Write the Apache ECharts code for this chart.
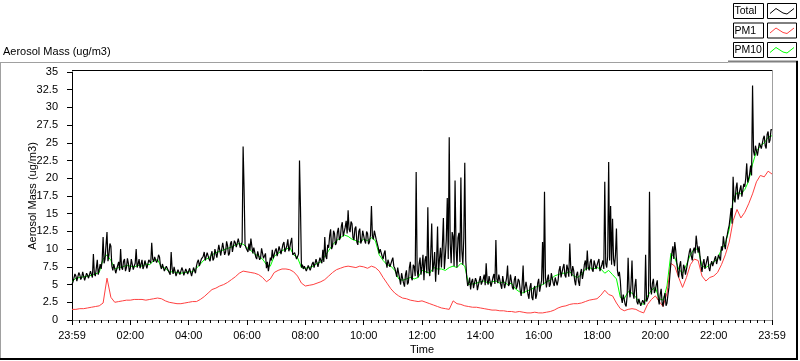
<!DOCTYPE html>
<html>
<head>
<meta charset="utf-8">
<script src="https://cdn.jsdelivr.net/npm/echarts@6/dist/echarts.min.js"></script>
<style>
html,body{margin:0;padding:0;background:#fff;}
#chart{width:800px;height:361px;}
</style>
</head>
<body>
<div id="chart"></div>
<script>
// ---- data ----
const chartTitle = 'Aerosol Mass (ug/m3)';
const xAxisName = 'Time';
const yAxisName = 'Aerosol Mass (ug/m3)';
const seriesNames = ['Total', 'PM1', 'PM10'];
const xTickLabels = ['23:59','02:00','04:00','06:00','08:00','10:00','12:00','14:00','16:00','18:00','20:00','22:00','23:59'];
const yTickLabels = ['0','2.5','5','7.5','10','12.5','15','17.5','20','22.5','25','27.5','30','32.5','35'];

// sample spacing in minutes after 23:59 of the previous day
const totalStepMin = 2;
const pm1StepMin = 8;
const pm10StepMin = 8;

const totalValues = [
5.0,5.4,5.9,6.5,6.2,5.5,5.6,6.7,6.4,5.7,6.0,6.8,6.6,5.6,5.8,6.6,6.3,5.9,6.1,6.9,
6.4,6.0,9.3,6.5,6.2,7.3,8.5,6.4,6.6,7.9,7.2,8.4,11.7,8.0,8.6,10.6,12.4,8.3,9.2,10.8,
10.4,7.6,7.0,7.9,7.8,6.6,6.8,7.7,8.2,7.0,10.0,7.4,7.1,8.3,8.6,6.9,7.4,8.7,8.0,6.8,
7.3,8.6,8.4,7.1,7.6,8.0,10.0,7.4,7.9,8.6,7.3,7.9,8.5,7.2,7.6,8.4,8.2,7.3,7.5,8.5,
8.3,8.0,10.9,8.6,8.2,8.9,9.1,8.1,8.4,9.2,8.9,7.6,7.2,7.9,8.0,6.9,7.0,7.6,7.8,7.0,
7.1,6.4,9.6,7.2,6.5,7.5,7.4,6.2,6.3,7.1,7.3,6.4,6.6,7.4,7.0,6.3,6.2,7.2,7.4,6.5,
6.4,7.3,7.1,6.2,6.3,7.4,7.2,6.6,7.6,8.2,8.5,7.6,7.5,8.6,8.4,9.0,9.6,8.4,8.2,9.5,
9.4,8.6,8.3,9.2,9.7,8.4,8.7,10.0,10.2,8.8,9.0,10.6,10.8,9.1,9.3,10.9,11.0,9.2,9.6,11.1,
10.5,9.1,9.4,10.8,11.1,9.6,9.8,11.2,10.9,10.3,10.4,11.5,11.4,10.2,10.3,11.0,24.5,18.4,10.6,10.2,
10.0,9.6,10.8,9.8,11.5,10.4,9.4,10.2,10.1,8.9,8.6,9.7,9.9,8.5,8.8,10.1,10.0,8.7,8.5,9.4,
7.3,8.2,6.9,7.8,8.8,8.4,9.9,8.7,8.6,9.8,10.1,9.0,9.2,10.4,10.6,9.3,9.5,10.7,11.0,9.6,
9.8,10.5,11.4,9.7,10.2,11.0,11.6,9.2,9.0,9.5,9.4,8.6,8.7,9.3,22.5,15.9,7.4,7.8,7.2,7.6,
7.8,6.9,7.0,7.7,7.6,7.0,7.1,7.9,8.2,7.4,7.5,8.6,8.7,7.5,7.6,8.8,8.4,8.0,9.9,8.2,
11.7,9.0,8.6,10.6,10.2,11.9,12.8,10.0,10.4,12.6,12.2,10.6,10.9,12.4,13.0,11.3,11.6,13.2,13.8,11.8,
12.0,13.1,14.0,12.2,15.5,12.8,12.4,13.9,13.6,11.6,11.3,12.9,13.2,11.0,10.6,12.5,12.9,10.8,11.2,12.6,
12.7,11.2,10.8,12.5,12.2,10.7,11.0,12.0,16.1,11.8,11.4,12.6,12.4,11.3,11.2,10.2,9.4,10.0,10.1,9.0,
8.6,9.4,9.8,8.2,7.4,8.5,8.7,7.5,7.6,8.4,8.8,7.6,7.3,6.8,6.1,7.4,7.2,5.8,5.0,6.6,
6.8,5.2,4.7,6.4,7.0,5.0,5.3,7.4,8.2,6.0,5.6,7.8,7.5,6.2,20.9,7.0,6.0,7.9,8.8,6.4,
7.6,9.2,5.6,8.4,9.0,6.6,15.9,7.2,6.2,9.4,13.6,6.8,7.8,9.6,5.4,8.2,13.2,6.4,8.6,10.2,
7.4,10.6,14.4,7.2,9.0,11.4,17.2,8.6,25.8,10.8,8.0,12.4,11.8,7.6,19.7,10.4,7.4,11.6,12.3,8.2,
20.1,9.8,7.8,11.6,22.2,8.4,6.0,4.8,5.2,6.0,4.3,5.4,5.8,4.5,4.6,5.9,5.5,4.2,4.4,5.6,
6.2,5.0,4.8,5.8,6.4,4.9,8.0,5.6,5.0,6.2,6.3,4.7,4.9,6.0,6.5,5.1,11.3,5.8,5.2,6.4,
6.6,5.0,4.4,6.2,6.0,4.5,4.6,5.9,7.7,4.8,5.1,6.4,6.5,4.6,4.3,5.7,6.2,4.4,4.8,5.8,
5.5,4.2,3.4,5.0,7.7,3.8,4.0,5.4,5.6,3.6,3.0,4.6,5.2,3.2,2.8,4.4,4.8,3.0,3.6,5.2,
5.8,4.0,4.2,5.6,11.0,5.0,18.1,6.0,4.6,5.8,6.4,4.7,5.0,6.6,6.8,5.2,4.8,6.0,6.2,4.9,
5.6,7.0,7.6,6.0,5.9,7.4,7.9,6.3,6.0,7.8,7.2,6.1,10.8,7.4,6.2,7.6,7.0,5.6,4.9,6.4,
6.8,5.4,4.8,6.6,7.2,5.8,6.6,7.8,8.4,7.0,9.8,7.4,7.0,8.2,8.6,7.1,6.8,8.4,8.2,7.2,
7.0,8.2,8.6,6.9,6.7,7.8,8.4,7.2,19.5,8.0,7.4,9.0,22.3,8.4,16.1,7.8,14.3,8.6,7.6,9.2,
12.9,7.0,6.2,6.8,5.5,3.2,2.4,3.6,3.8,2.2,1.9,3.4,8.8,4.4,3.2,5.0,8.4,3.8,3.0,4.8,
5.8,2.6,2.2,3.0,3.2,2.0,1.8,2.8,3.0,2.2,9.2,2.6,2.4,3.4,18.1,4.8,3.6,5.2,5.8,3.8,
4.2,5.0,5.6,3.0,2.2,3.6,4.4,2.4,1.9,3.2,3.8,2.0,2.4,3.6,4.6,6.4,8.0,9.4,10.4,8.6,
11.0,9.8,8.2,7.0,6.0,7.6,8.3,6.4,5.8,7.8,7.4,6.4,6.2,7.9,8.8,9.6,10.1,9.0,8.4,9.8,
10.2,9.4,11.9,10.6,9.5,10.4,8.9,7.6,6.8,8.0,8.6,7.2,7.0,8.4,9.0,7.4,6.9,7.8,8.3,7.6,
7.7,8.6,9.0,7.9,8.0,9.2,9.3,8.4,10.4,9.8,11.8,10.6,10.0,11.4,12.0,12.8,13.4,14.6,15.8,13.6,
20.2,17.0,16.6,18.6,19.4,17.0,17.2,18.4,19.0,17.4,17.6,19.2,18.8,20.0,22.1,19.4,19.6,20.6,21.8,20.4,
33.1,23.8,23.2,24.6,24.8,23.2,23.4,25.0,25.2,24.2,24.0,25.6,26.0,24.6,24.2,26.2,26.6,25.0,25.4,26.9,26.8
];

const pm1Values = [
1.5,1.5,1.6,1.6,1.7,1.8,1.9,2.0,2.4,5.9,
3.2,2.5,2.6,2.7,2.8,2.8,2.9,2.9,2.9,2.8,
2.9,3.0,3.1,3.0,2.7,2.5,2.4,2.3,2.3,2.4,
2.5,2.6,2.6,2.9,3.3,3.8,4.3,4.5,4.8,5.0,
5.3,5.7,6.1,6.6,6.9,6.8,6.7,6.6,6.4,6.0,
5.4,5.8,6.7,7.0,7.2,7.2,7.1,6.8,6.2,5.2,
4.8,4.9,5.0,5.2,5.4,5.7,6.2,6.7,7.1,7.3,
7.5,7.6,7.5,7.4,7.6,7.5,7.3,7.6,7.4,6.9,
6.0,5.2,4.4,3.8,3.4,3.1,3.0,2.8,2.7,2.6,
2.7,2.5,2.3,2.1,1.9,1.7,1.6,1.5,2.7,2.3,
2.2,2.0,1.9,1.8,1.8,1.7,1.6,1.5,1.4,1.4,
1.3,1.3,1.2,1.2,1.1,1.2,1.1,1.0,1.0,1.1,
1.0,1.0,1.1,1.2,1.4,1.7,1.9,2.0,2.2,2.3,
2.3,2.4,2.6,2.8,2.9,3.0,3.5,4.2,3.6,3.4,
2.4,1.6,1.3,1.5,1.6,1.5,1.2,1.0,2.2,2.9,
3.4,2.6,1.9,3.8,8.0,7.6,6.0,4.6,6.0,7.8,
8.6,8.4,6.2,5.5,6.0,6.2,6.7,7.8,9.2,11.0,
14.0,15.6,14.4,15.2,16.4,17.8,19.5,20.4,20.2,21.0,20.6
];

const pm10Values = [
5.4,5.9,6.0,6.1,6.2,6.3,6.5,6.7,8.6,9.2,
8.4,7.2,7.4,7.5,7.7,7.6,7.5,7.7,7.6,7.9,
7.8,8.4,8.5,7.5,7.3,6.8,6.8,6.7,6.6,6.7,
6.8,6.8,7.3,7.9,8.5,8.7,9.2,9.5,9.7,9.9,
10.1,10.3,10.6,10.8,10.7,10.2,9.8,9.3,9.0,8.6,
7.8,7.6,9.0,9.4,9.8,10.0,10.2,9.2,8.8,7.4,
7.3,7.4,7.6,8.0,8.2,9.0,9.8,10.6,11.2,11.6,
12.0,11.8,11.4,11.2,11.0,11.4,11.2,11.6,11.2,9.2,
8.4,7.8,7.6,7.0,5.8,5.6,5.8,6.0,5.8,6.0,
7.0,6.8,6.6,7.4,7.2,7.2,7.0,7.4,7.6,7.4,
8.0,7.6,5.0,5.1,5.2,5.4,5.5,5.2,5.4,5.5,
5.2,5.4,5.0,5.2,4.4,4.0,3.8,4.1,4.3,4.6,
4.8,5.0,5.4,5.6,6.2,6.4,6.6,6.6,6.8,6.2,
6.0,6.4,7.2,7.4,7.2,7.4,7.2,6.6,7.0,6.4,
5.8,3.2,3.0,4.0,3.8,3.2,2.4,2.2,3.4,4.2,
4.6,3.0,2.8,4.8,9.4,8.8,7.2,6.6,7.8,9.2,
10.0,10.0,7.6,7.4,7.8,8.2,8.6,10.0,10.8,12.8,
17.0,18.0,17.8,18.4,19.6,22.0,23.8,24.6,25.0,25.8,26.0
];

// ---- build series data ----
function toXY(values, step) {
  return values.map(function (v, i) { return [i * step, v]; });
}

const FONT = 'Liberation Sans, Arial, sans-serif';
const chart = echarts.init(document.getElementById('chart'), null, {renderer: 'canvas'});

function legendRow(y, name, color) {
  return [
    {type: 'rect', shape: {x: 733.5, y: y + 0.5, width: 30, height: 15},
     style: {fill: '#fff', stroke: '#000', lineWidth: 1}, z: 10},
    {type: 'text', x: 734.5, y: y + 8.5,
     style: {text: name, font: '10.5px ' + FONT, fill: '#000', verticalAlign: 'middle'}, z: 11},
    {type: 'rect', shape: {x: 767.5, y: y + 0.5, width: 29, height: 15},
     style: {fill: '#fff', stroke: '#000', lineWidth: 1}, z: 10},
    {type: 'polyline', shape: {points: [[770, y + 10.5], [776, y + 5.5], [783, y + 10], [787, y + 11], [794, y + 5.5]]},
     style: {stroke: color, lineWidth: 1, fill: null}, z: 11}
  ];
}

const graphics = [].concat(
  [
    {type: 'line', shape: {x1: 0, y1: 62.5, x2: 728, y2: 62.5}, style: {stroke: '#a0a0a0', lineWidth: 1}},
    {type: 'line', shape: {x1: 728, y1: 61.5, x2: 798, y2: 61.5}, style: {stroke: '#808080', lineWidth: 2}},
    {type: 'line', shape: {x1: 0.5, y1: 62, x2: 0.5, y2: 359}, style: {stroke: '#a0a0a0', lineWidth: 1}},
    {type: 'line', shape: {x1: 0, y1: 359, x2: 798, y2: 359}, style: {stroke: '#000', lineWidth: 2}},
    {type: 'line', shape: {x1: 797, y1: 61, x2: 797, y2: 360}, style: {stroke: '#000', lineWidth: 2}},
    {type: 'line', shape: {x1: 72, y1: 70.5, x2: 772.5, y2: 70.5}, style: {stroke: '#000', lineWidth: 1}},
    {type: 'line', shape: {x1: 772.5, y1: 70.5, x2: 772.5, y2: 322.5}, style: {stroke: '#a0a0a0', lineWidth: 1}},
    {type: 'text', x: 3, y: 52,
     style: {text: chartTitle, font: '11px ' + FONT, fill: '#000', verticalAlign: 'middle'}}
  ],
  legendRow(3, seriesNames[0], '#000000'),
  legendRow(22.5, seriesNames[1], '#ff4040'),
  legendRow(42, seriesNames[2], '#00ff00')
);

const option = {
  animation: false,
  backgroundColor: '#ffffff',
  grid: {left: 72, right: 28, top: 72, height: 248, containLabel: false},
  xAxis: {
    type: 'value', min: 0, max: 1440, interval: 120,
    offset: 2,
    name: xAxisName, nameLocation: 'middle', nameGap: 22, nameMoveOverlap: false,
    nameTextStyle: {color: '#000', fontFamily: FONT, fontSize: 11},
    axisLine: {show: true, lineStyle: {color: '#909090', width: 1}},
    axisTick: {show: true, length: 5, lineStyle: {color: '#000'}},
    minorTick: {show: true, splitNumber: 8, length: 3, lineStyle: {color: '#000'}},
    splitLine: {show: false},
    axisLabel: {
      color: '#000', fontFamily: FONT, fontSize: 11, margin: 8,
      showMinLabel: true, showMaxLabel: true,
      formatter: function (v) { return xTickLabels[Math.round(v / 120)] || ''; }
    }
  },
  yAxis: {
    type: 'value', min: 0, max: 35, interval: 2.5,
    name: yAxisName, nameLocation: 'middle', nameRotate: 90, nameGap: 34, nameMoveOverlap: false,
    nameTextStyle: {color: '#000', fontFamily: FONT, fontSize: 11},
    axisLine: {show: true, lineStyle: {color: '#000', width: 1}},
    axisTick: {show: true, length: 5, lineStyle: {color: '#000'}},
    splitLine: {show: false},
    axisLabel: {
      color: '#000', fontFamily: FONT, fontSize: 11, margin: 14,
      showMinLabel: true, showMaxLabel: true,
      formatter: function (v) { return yTickLabels[Math.round(v / 2.5)] || ''; }
    }
  },
  graphic: graphics,
  series: [
    {name: seriesNames[2], type: 'line', data: toXY(pm10Values, pm10StepMin), showSymbol: false,
     lineStyle: {color: '#00ff00', width: 1}, z: 2},
    {name: seriesNames[1], type: 'line', data: toXY(pm1Values, pm1StepMin), showSymbol: false,
     lineStyle: {color: '#ff4040', width: 1}, z: 3},
    {name: seriesNames[0], type: 'line', data: toXY(totalValues, totalStepMin), showSymbol: false,
     lineStyle: {color: '#000000', width: 1.2}, z: 4}
  ]
};
chart.setOption(option);
</script>
</body>
</html>
